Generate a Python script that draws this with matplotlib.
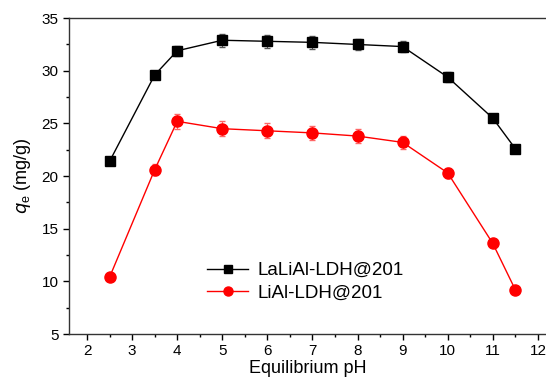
import matplotlib.pyplot as plt
from matplotlib.ticker import MultipleLocator
from matplotlib.lines import Line2D

plt.rcParams['font.family'] = ['Liberation Sans', 'DejaVu Sans']

# Data
ph = [2.5, 3.5, 4, 5, 6, 7, 8, 9, 10, 11, 11.5]
lalial = [21.4, 29.6, 31.9, 32.9, 32.8, 32.7, 32.5, 32.3, 29.4, 25.5, 22.6]
lalial_err = [0.3, 0.4, 0.5, 0.6, 0.6, 0.6, 0.5, 0.5, 0.5, 0.3, 0.2]
lial = [10.4, 20.6, 25.2, 24.5, 24.3, 24.1, 23.8, 23.2, 20.3, 13.6, 9.2]
lial_err = [0.2, 0.5, 0.7, 0.7, 0.7, 0.7, 0.7, 0.6, 0.5, 0.2, 0.2]

fig = plt.figure(figsize=(5.46, 3.86), dpi=100)
ax = fig.add_axes([0.1264, 0.1347, 0.8736, 0.8183])

ax.errorbar(ph, lalial, yerr=lalial_err, color='black', marker='s', markersize=6.5,
            linewidth=1, ecolor='#555555', elinewidth=0.8, capsize=2.5)
ax.errorbar(ph, lial, yerr=lial_err, color='red', marker='o', markersize=8,
            linewidth=1, ecolor='#ff6666', elinewidth=0.8, capsize=2.5)

ax.set_xlim(1.6, 12.18)
ax.set_ylim(5, 35)
ax.xaxis.set_major_locator(MultipleLocator(1))
ax.xaxis.set_minor_locator(MultipleLocator(0.5))
ax.yaxis.set_major_locator(MultipleLocator(5))
ax.yaxis.set_minor_locator(MultipleLocator(2.5))
ax.tick_params(which='major', direction='out', length=4, width=1, labelsize=11)
ax.tick_params(which='minor', direction='out', length=2.5, width=1)
ax.spines['right'].set_visible(False)
for s in ['left', 'bottom', 'top']:
    ax.spines[s].set_linewidth(1)
    ax.spines[s].set_color('#333333')

ax.set_xlabel('Equilibrium pH', fontsize=13, labelpad=1)
ax.set_ylabel(r'$q_\mathregular{e}$ (mg/g)', fontsize=13, labelpad=6)

# legend without error bars, slightly smaller markers like the original
handles = [
    Line2D([], [], color='black', marker='s', markersize=5.5, linewidth=1),
    Line2D([], [], color='red', marker='o', markersize=6.5, linewidth=1),
]
ax.legend(handles, ['LaLiAl-LDH@201', 'LiAl-LDH@201'], loc='lower left',
          bbox_to_anchor=(0.27, 0.072), frameon=False,
          fontsize=13.5, handlelength=2.2, handletextpad=0.5, labelspacing=0.3,
          borderpad=0)

fig.savefig('out.png', dpi=100)
